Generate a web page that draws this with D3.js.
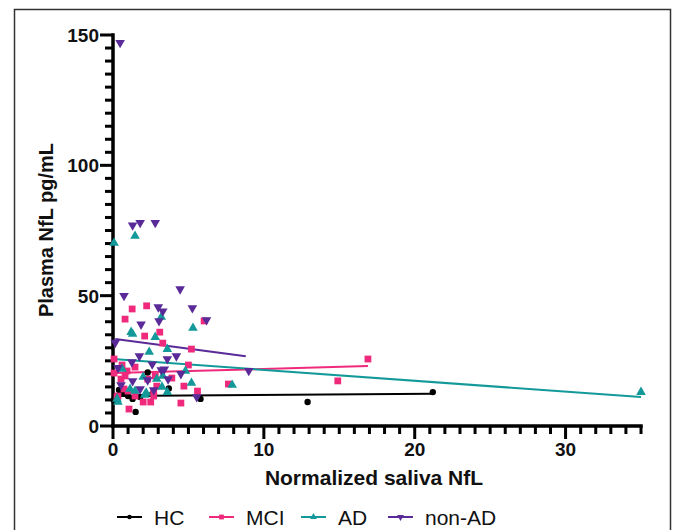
<!DOCTYPE html>
<html>
<head>
<meta charset="utf-8">
<script src="https://cdn.jsdelivr.net/npm/d3@7"></script>
<style>
  body { margin: 0; background: #fff; }
  svg { display: block; font-family: "Liberation Sans", Arial, sans-serif; }
</style>
</head>
<body>
<div id="chart"></div>
<script>
// groups and colours
const groups = ['HC', 'MCI', 'AD', 'non-AD'];
const colors = ['#000000', '#ef2a7c', '#13999a', '#5a2a98'];

// points [saliva NfL, plasma NfL]
const hcPoints = [
  [2.3, 20.5], [0.4, 13.8], [1.0, 11.5], [1.3, 10.4], [1.8, 11.1], [3.7, 14.4],
  [1.5, 5.4], [5.8, 10.4], [0.05, 10], [12.9, 9.2], [21.2, 13], [0.7, 12.5], [2.6, 12.2]
];
const mciPoints = [
  [2.23, 46.1], [1.27, 44.9], [0.8, 41], [6.04, 40.3], [3.1, 36], [2.1, 34.5],
  [3.3, 31.8], [5.2, 29.5], [0.07, 25.7], [0.6, 23.4], [5.0, 23.4], [1.46, 22.6],
  [0.93, 21.1], [0.07, 20.3], [0.8, 19.2], [0.53, 18], [2.3, 18], [3.9, 18.4],
  [2.8, 19.2], [2.9, 15.3], [4.7, 15.3], [5.6, 13.4], [7.65, 16.1], [0.73, 14.2],
  [1.0, 13.4], [0.33, 11.5], [0.27, 11.1], [1.46, 11.5], [2.0, 9.2], [2.5, 9.2],
  [2.7, 11.5], [1.06, 6.5], [4.5, 8.8], [2.7, 13], [16.9, 25.7], [14.9, 17.3]
];
const adPoints = [
  [0.07, 70.2], [1.46, 72.9], [3.2, 41.8], [1.2, 36], [1.3, 35.3], [2.8, 34.1],
  [5.3, 37.6], [3.6, 29.5], [2.4, 28.4], [0.6, 21.9], [4.8, 21.1], [3.3, 19.2],
  [2.0, 18.8], [2.9, 18], [5.2, 16.5], [7.9, 15.7], [1.13, 14.2], [1.46, 13.4],
  [2.1, 11.9], [3.6, 13], [0.33, 9.2], [3.25, 15], [0.27, 10.4], [2.2, 12.7], [35, 13]
];
const nonAdPoints = [
  [0.47, 147], [1.3, 77], [1.8, 78], [2.8, 78], [4.45, 52.5], [0.73, 50],
  [3.0, 45.6], [3.3, 44], [1.86, 39], [3.05, 40.3], [5.26, 45.3], [6.2, 40.7],
  [0.15, 32], [4.2, 26.8], [3.6, 25.7], [2.6, 23.7], [1.75, 26.8], [1.25, 24.5],
  [4.5, 20], [3.65, 18], [3.2, 21.5], [1.3, 17.3], [0.53, 15.7], [1.8, 14.2],
  [2.7, 13.8], [5.55, 11.1], [9, 21.2], [0.33, 22.3], [2.3, 17.6], [3.4, 21.8]
];

// fitted lines: [x start, y start, x end, y end]
const fitLines = [
  [0, 11.5, 21.2, 12.4],
  [0, 20.3, 16.9, 23.0],
  [0, 25.7, 35, 11.1],
  [0.15, 33.4, 8.8, 26.8]
];

const xMajorTicks = [0, 10, 20, 30];
const yMajorTicks = [0, 50, 100, 150];
const xMinorTicks = d3.range(0, 36, 1);
const yMinorTicks = d3.range(0, 151, 5);

const W = 673, H = 530;
const svg = d3.select('#chart').append('svg')
  .attr('width', W)
  .attr('height', H);

// frame
svg.append('rect')
  .attr('x', 14.5).attr('y', 9.5)
  .attr('width', 656).attr('height', 540)
  .attr('fill', 'none')
  .attr('stroke', '#333')
  .attr('stroke-width', 1.5);

const x = d3.scaleLinear().domain([0, 35]).range([113, 641]);
const y = d3.scaleLinear().domain([0, 150]).range([426, 35]);

const axes = svg.append('g').attr('fill', '#000');

// tick marks as filled rects (minor short, major long)
axes.append('g').selectAll('rect')
  .data(xMinorTicks)
  .join('rect')
  .attr('x', d => x(d) - 1.5)
  .attr('y', y(0))
  .attr('width', 3)
  .attr('height', d => xMajorTicks.includes(d) ? 13 : 8);
axes.append('g').selectAll('rect')
  .data(yMinorTicks)
  .join('rect')
  .attr('x', d => x(0) - (yMajorTicks.includes(d) ? 13 : 8))
  .attr('y', d => y(d) - 1.5)
  .attr('width', d => yMajorTicks.includes(d) ? 13 : 8)
  .attr('height', 3);

// axis lines
axes.append('rect')
  .attr('x', x(0) - 1.75).attr('y', y(0) - 1.75)
  .attr('width', x(35) - x(0) + 3.5).attr('height', 3.5);
axes.append('rect')
  .attr('x', x(0) - 1.75).attr('y', y(150) - 1.75)
  .attr('width', 3.5).attr('height', y(0) - y(150) + 3.5);

// tick labels
svg.append('g').selectAll('text')
  .data(xMajorTicks)
  .join('text')
  .attr('x', d => x(d)).attr('y', y(0) + 30)
  .attr('text-anchor', 'middle')
  .style('font-size', '19px').style('font-weight', 'bold').attr('fill', '#111')
  .text(d => d);
svg.append('g').selectAll('text')
  .data(yMajorTicks)
  .join('text')
  .attr('x', x(0) - 14).attr('y', d => y(d) + 7)
  .attr('text-anchor', 'end')
  .style('font-size', '19px').style('font-weight', 'bold').attr('fill', '#111')
  .text(d => d);

// titles
svg.append('text')
  .attr('x', 374).attr('y', 485)
  .attr('text-anchor', 'middle')
  .style('font-size', '21px').style('font-weight', 'bold').attr('fill', '#111')
  .text('Normalized saliva NfL');
svg.append('text')
  .attr('transform', 'translate(53,230) rotate(-90)')
  .attr('text-anchor', 'middle')
  .style('font-size', '20px').style('font-weight', 'bold').attr('fill', '#111')
  .text('Plasma NfL pg/mL');

// symbols
const symbolTypes = [d3.symbolCircle, d3.symbolSquare, d3.symbolTriangle, d3.symbolTriangle];
const symbolSizes = [32, 46, 40, 40];
const rotations = [0, 0, 0, 180];
const allPoints = [hcPoints, mciPoints, adPoints, nonAdPoints];

// fit lines
svg.append('g').selectAll('line')
  .data(fitLines)
  .join('line')
  .attr('x1', d => x(d[0])).attr('y1', d => y(d[1]))
  .attr('x2', d => x(d[2])).attr('y2', d => y(d[3]))
  .attr('stroke', (d, i) => colors[i])
  .attr('stroke-width', 2);

allPoints.forEach((pts, i) => {
  const sym = d3.symbol().type(symbolTypes[i]).size(symbolSizes[i]);
  svg.append('g').selectAll('path')
    .data(pts)
    .join('path')
    .attr('d', sym)
    .attr('transform', d => `translate(${x(d[0])},${y(d[1])}) rotate(${rotations[i]})`)
    .attr('fill', colors[i]);
});

// legend
const legendX = [117, 209, 301, 388];
const legend = svg.append('g').attr('transform', 'translate(0,517)');
groups.forEach((g, i) => {
  const item = legend.append('g').attr('transform', `translate(${legendX[i]},0)`);
  item.append('line')
    .attr('x1', 0).attr('x2', 25)
    .attr('stroke', colors[i]).attr('stroke-width', 2);
  item.append('path')
    .attr('d', d3.symbol().type(symbolTypes[i]).size(symbolSizes[i] * 0.5))
    .attr('transform', `translate(12.5,0) rotate(${rotations[i]})`)
    .attr('fill', colors[i]);
  item.append('text')
    .attr('x', 37).attr('y', 8)
    .style('font-size', '21px').attr('fill', '#111')
    .text(g);
});
</script>
</body>
</html>
